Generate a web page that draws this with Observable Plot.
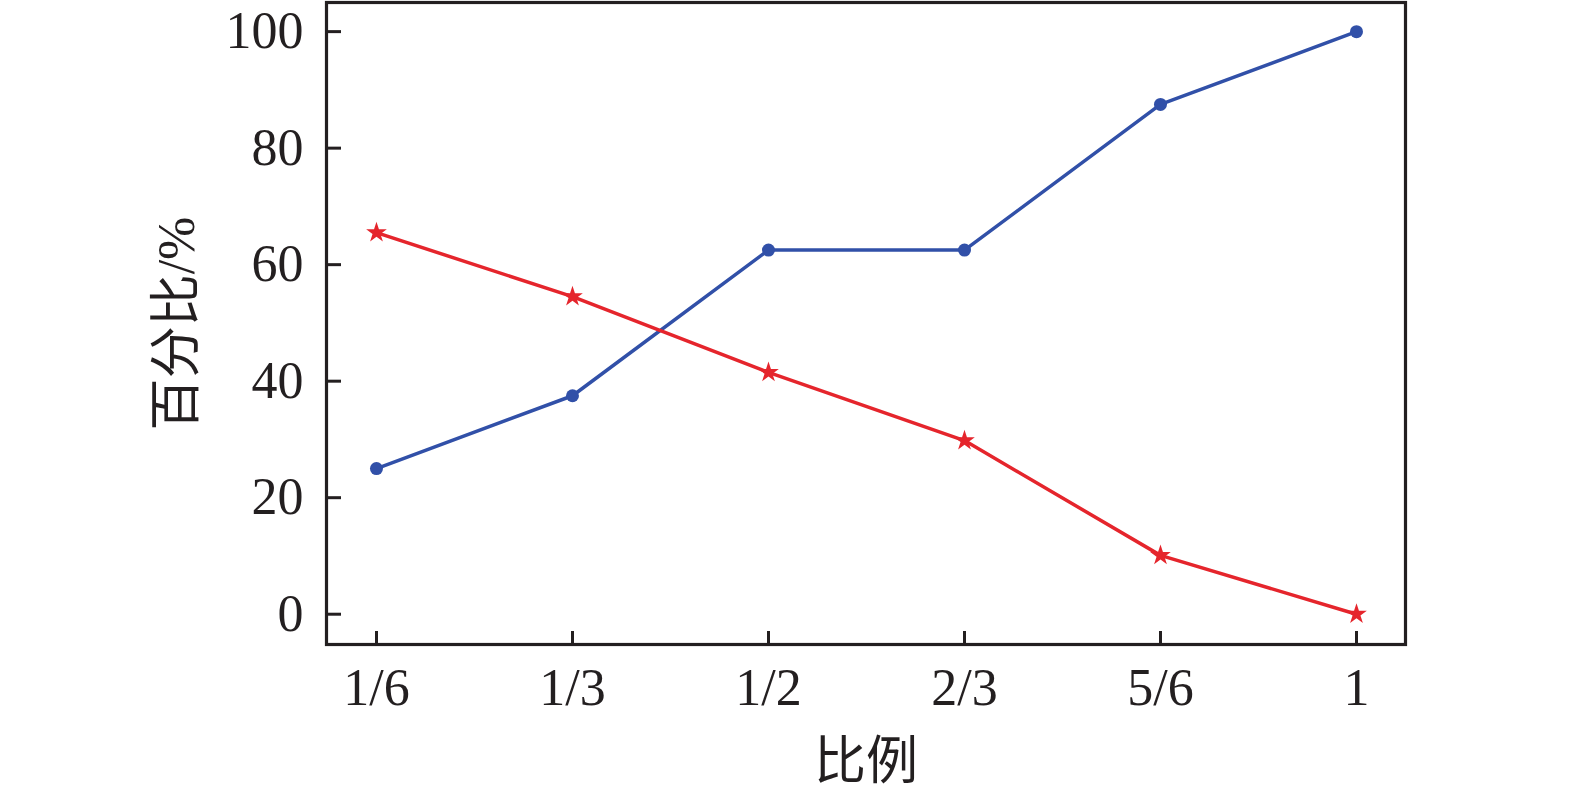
<!DOCTYPE html>
<html>
<head>
<meta charset="utf-8">
<script src="https://cdn.jsdelivr.net/npm/d3@7"></script>
<script src="https://cdn.jsdelivr.net/npm/@observablehq/plot@0.6"></script>
<style>
  html, body { margin: 0; padding: 0; background: #fff; }
</style>
</head>
<body>
<div id="chart"></div>
<script>
const xValues = [1/6, 2/6, 3/6, 4/6, 5/6, 1];
const xTickLabels = ["1/6", "1/3", "1/2", "2/3", "5/6", "1"];
const blueValues = [25, 37.5, 62.5, 62.5, 87.5, 100];
const redValues = [65.5, 54.5, 41.5, 29.8, 10.1, 0];
const yTicks = [0, 20, 40, 60, 80, 100];

const blue = xValues.map((x, i) => ({x, y: blueValues[i]}));
const red = xValues.map((x, i) => ({x, y: redValues[i]}));

const font = '"Liberation Serif", "Noto Sans CJK SC", serif';
const ink = "#231f20";
const blueColor = "#3150a8";
const redColor = "#e5252c";

const chart = Plot.plot({
  width: 1575,
  height: 792,
  marginLeft: 326,
  marginRight: 170,
  marginTop: 2,
  marginBottom: 148,
  style: {fontFamily: font, background: "#fff", color: ink},
  x: {domain: [1/6 - 0.255/6, 1 + 0.25/6]},
  y: {domain: [-5.2, 105]},
  marks: [
    Plot.frame({stroke: ink, strokeWidth: 3.2}),
    // inward ticks
    Plot.axisY(yTicks, {anchor: "left", tickSize: 15, dx: 15, text: null, label: null, stroke: ink, strokeWidth: 3}),
    Plot.axisX(xValues, {anchor: "bottom", tickSize: 13, dy: -13, text: null, label: null, stroke: ink, strokeWidth: 3}),
    // labels
    Plot.axisY(yTicks, {anchor: "left", tickSize: 0, tickPadding: 23, fontSize: 52, fontFamily: font, fill: ink,
      label: "百分比/%", labelAnchor: "center", labelArrow: "none", labelOffset: 169}),
    Plot.axisX(xValues, {anchor: "bottom", tickSize: 0, tickPadding: 24, fontSize: 52, fontFamily: font, fill: ink,
      tickFormat: (d, i) => xTickLabels[i],
      label: "比例", labelAnchor: "center", labelArrow: "none", labelOffset: 134}),
    Plot.line(blue, {x: "x", y: "y", stroke: blueColor, strokeWidth: 3.5}),
    Plot.dot(blue, {x: "x", y: "y", r: 6.5, fill: blueColor, stroke: "none"}),
    Plot.line(red, {x: "x", y: "y", stroke: redColor, strokeWidth: 3.5}),
    Plot.dot(red, {x: "x", y: "y", r: 6.5, symbol: "star", fill: redColor, stroke: "none"})
  ]
});
document.getElementById("chart").appendChild(chart);
</script>
</body>
</html>
